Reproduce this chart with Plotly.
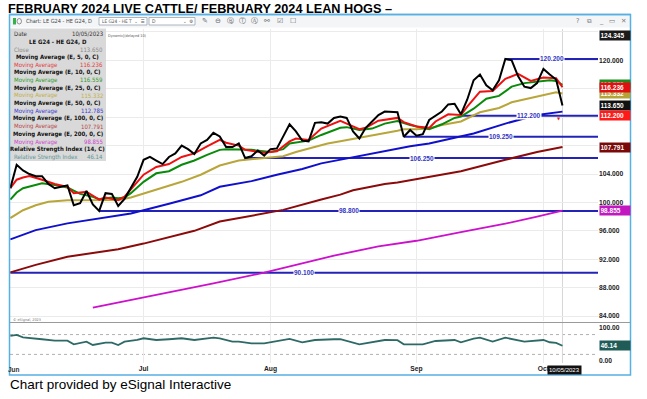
import pandas as pd
import plotly.graph_objects as go

# ---------------- data ----------------
HOLIDAYS = ["2023-06-19", "2023-07-04", "2023-09-04"]
trade_days = [d.strftime("%Y-%m-%d") for d in pd.bdate_range("2023-06-01", "2023-10-13")
              if d.strftime("%Y-%m-%d") not in HOLIDAYS]
N_DATA = 88
dates = trade_days[:N_DATA]

month_tick_idx = [21, 41, 64, 84]
month_tick_text = ["Jul", "Aug", "Sep", "Oct"]

close = [102.0, 105.3, 104.5, 104.0, 103.7, 103.7, 102.6, 102.0, 102.2, 102.4,
         99.6, 99.9, 101.6, 99.7, 98.8, 101.3, 101.2, 99.5, 100.5, 102.0,
         103.6, 106.0, 106.4, 105.9, 105.4, 106.4, 106.9, 108.0, 107.5, 106.8,
         108.3, 108.8, 109.8, 109.3, 107.8, 107.8, 108.3, 106.25, 106.5, 107.3,
         106.6, 107.5, 107.6, 109.3, 111.0, 110.0, 108.7, 108.6, 111.2, 111.3,
         111.1, 111.9, 112.1, 111.9, 110.0, 109.0, 110.5, 111.4, 112.3, 112.8,
         112.8, 112.7, 109.25, 110.2, 109.4, 109.6, 111.6, 112.2, 112.8, 113.8,
         113.9, 112.4, 114.5, 117.2, 118.0, 116.5, 115.8, 117.2, 120.2, 120.0,
         117.8, 116.3, 116.1, 116.8, 118.8, 118.0, 117.3, 113.65]

ema5_idx = [0, 1, 2, 3, 5, 7, 9, 10, 12, 14, 15, 17, 18, 19, 21, 23, 25, 27, 29, 31, 33, 34,
            36, 37, 39, 40, 42, 44, 45, 47, 49, 50, 52, 53, 55, 56, 58, 61, 62, 64, 66, 67,
            69, 71, 72, 74, 76, 78, 80, 82, 84, 86, 87]
ema5_val = [102.0, 103.2, 103.5, 103.7, 103.2, 102.6, 102.2, 101.3, 101.5, 100.4, 100.7, 100.3,
            100.8, 101.8, 103.9, 105.0, 105.4, 106.4, 106.9, 107.9, 108.8, 108.4, 108.0, 107.4,
            107.2, 107.0, 107.2, 108.6, 109.0, 108.8, 110.4, 110.8, 111.5, 111.1, 110.3, 110.5,
            111.5, 111.9, 111.3, 110.7, 110.5, 111.4, 112.4, 112.3, 113.5, 115.6, 115.7, 117.4,
            118.1, 117.1, 117.6, 117.5, 116.236]

ema10_idx = [0, 1, 2, 4, 5, 7, 9, 11, 13, 14, 16, 17, 18, 19, 21, 23, 25, 27, 29, 31, 33, 34,
             36, 38, 41, 43, 44, 46, 47, 49, 52, 53, 55, 57, 59, 61, 63, 66, 68, 70, 71, 73,
             75, 77, 79, 81, 83, 85, 86, 87]
ema10_val = [100.4, 101.4, 102.0, 102.45, 102.7, 102.45, 102.1, 101.2, 100.8, 100.45, 100.7,
             100.6, 100.7, 101.3, 102.9, 104.1, 104.4, 105.3, 105.9, 106.7, 107.4, 107.5, 107.5,
             107.4, 107.1, 107.5, 108.3, 108.5, 108.7, 109.5, 110.5, 110.6, 110.2, 110.4, 111.1,
             111.45, 110.9, 110.3, 111.0, 111.9, 112.1, 113.2, 114.6, 115.0, 116.3, 116.8, 117.0,
             117.2, 117.1, 116.559]

ema25_idx = [0, 2, 4, 6, 9, 12, 14, 17, 19, 22, 24, 25, 27, 30, 33, 36, 39, 43, 45, 48, 50, 52,
             54, 56, 58, 61, 62, 64, 66, 68, 71, 74, 77, 79, 82, 84, 86, 87]
ema25_val = [97.8, 98.9, 99.6, 100.1, 100.3, 100.35, 100.35, 100.35, 100.7, 101.5, 102.1, 102.4,
             102.9, 103.9, 105.2, 105.9, 106.2, 106.5, 107.1, 107.8, 108.3, 108.6, 108.9, 109.3,
             109.6, 110.1, 110.3, 110.3, 110.4, 110.9, 111.4, 112.7, 113.3, 114.1, 114.7, 115.1,
             115.5, 115.332]

ema50_idx = [0, 4, 9, 14, 19, 25, 30, 33, 38, 42, 46, 49, 52, 56, 61, 63, 66, 69, 71, 73, 78, 83, 87]
ema50_val = [94.8, 96.1, 97.05, 97.75, 98.45, 99.8, 101.0, 102.2, 103.0, 103.9, 104.7, 105.5,
             106.0, 106.7, 107.6, 107.9, 108.3, 108.9, 109.3, 109.7, 111.1, 112.3, 112.785]

ema100_idx = [0, 4, 9, 14, 17, 21, 25, 29, 33, 38, 43, 49, 52, 54, 59, 61, 65, 69, 71, 78, 83, 87]
ema100_val = [90.15, 91.2, 92.35, 93.05, 93.4, 94.2, 95.1, 96.0, 97.3, 98.15, 98.95, 100.4, 101.1,
              101.7, 102.6, 102.8, 103.4, 104.1, 104.4, 106.0, 107.1, 107.791]

ema200_idx = [13, 20, 25, 32, 40, 46, 51, 58, 64, 71, 78, 83, 87]
ema200_val = [85.2, 86.45, 87.3, 88.6, 90.1, 91.4, 92.5, 93.8, 94.6, 95.8, 97.0, 98.0, 98.855]

rsi_idx = [0, 1, 2, 4, 5, 7, 9, 10, 11, 12, 13, 15, 16, 17, 18, 20, 21, 23, 25, 27, 29, 31, 32,
           33, 35, 36, 38, 40, 44, 46, 48, 51, 52, 55, 57, 59, 61, 62, 65, 67, 70, 71, 73, 74,
           76, 78, 81, 84, 85, 86, 87]
rsi_val = [75.8, 78.8, 71.7, 68.8, 65.8, 61.6, 61.6, 50.6, 53.6, 58.5, 48.5, 55.5, 55.5, 48.5,
           58.5, 63.6, 68.8, 63.6, 65.8, 68.8, 63.6, 68.8, 70.6, 68.8, 58.5, 58.5, 53.6, 53.6,
           66.7, 56.7, 63.6, 65.8, 66.5, 50.6, 58.0, 63.6, 63.0, 50.6, 50.6, 60.6, 63.6, 56.7,
           68.0, 70.6, 58.5, 70.6, 58.5, 63.6, 56.7, 55.0, 46.14]

support_levels = [120.2, 112.2, 109.25, 106.25, 98.8, 90.1]
support_start_idx = [78, 71, 62, 37, 14, 0]
support_labels = ["120.200", "112.200", "109.250", "106.250", "98.800", "90.100"]

last_close = 113.650
last_ema = [116.236, 116.559, 115.332, 112.785, 107.791, 98.855]
last_rsi = 46.14
chart_high = 124.345

price_ticks = [84, 88, 92, 96, 100, 104, 108, 112, 116, 120, 124]
price_tick_shown = [84, 88, 92, 96, 100, 104, 120]

# ---------------- styles ----------------
FONT = "Liberation Sans"
NARROW = "Liberation Sans Narrow, DejaVu Sans Condensed, Liberation Sans"
C_CLOSE = "#000000"
C_E5 = "#ee1111"
C_E10 = "#0a8a0a"
C_E25 = "#b8a63a"
C_E50 = "#1010cc"
C_E100 = "#8b0a0a"
C_E200 = "#cc10cc"
C_SUP = "#2323b8"
C_RSI = "#2d6a66"

W, H = 647, 399
ML, MR, MT, MB = 10, 49, 29, 36
PW = W - ML - MR
PH = H - MT - MB
X_END = 92.6


def fx(p):
    return (p - ML) / PW


def fy(p):
    return (H - MB - p) / PH


fig = go.Figure()


def add_line(idx, vals, color, width, yaxis="y"):
    fig.add_trace(go.Scatter(x=[trade_days[i] for i in idx], y=vals, mode="lines",
                             line=dict(color=color, width=width), yaxis=yaxis,
                             hoverinfo="skip", showlegend=False))


# support lines
for lvl, st in zip(support_levels, support_start_idx):
    add_line([st, len(trade_days) - 1], [lvl, lvl], C_SUP, 2)

add_line(ema200_idx, ema200_val, C_E200, 1.8)
add_line(ema100_idx, ema100_val, C_E100, 2)
add_line(ema50_idx, ema50_val, C_E50, 2)
add_line(ema25_idx, ema25_val, C_E25, 2)
add_line(ema10_idx, ema10_val, C_E10, 2)
add_line(ema5_idx, ema5_val, C_E5, 2)
add_line(list(range(N_DATA)), close, C_CLOSE, 2)
add_line(rsi_idx, rsi_val, C_RSI, 1.8, yaxis="y2")

tickfont = dict(family=FONT, size=6.7, color="#222", weight="bold")

fig.update_layout(
    width=W, height=H,
    margin=dict(l=ML, r=MR, t=MT, b=MB),
    paper_bgcolor="white", plot_bgcolor="rgba(0,0,0,0)",
    showlegend=False,
    xaxis=dict(type="category", categoryorder="array", categoryarray=trade_days,
               range=[-0.05, X_END], tickvals=[trade_days[i] for i in month_tick_idx],
               ticktext=month_tick_text, showgrid=True, gridcolor="#ebebeb", gridwidth=1,
               zeroline=False, showline=False, ticks="", tickfont=tickfont,
               anchor="y2", domain=[0, 1], fixedrange=True),
    yaxis=dict(domain=[fy(321), 1], range=[83.3, 124.42], side="right", anchor="x",
               tickvals=price_ticks,
               ticktext=[("%.3f" % t) if t in price_tick_shown else "" for t in price_ticks],
               showgrid=True, gridcolor="#ebebeb", zeroline=False, showline=False,
               ticks="", tickfont=tickfont, fixedrange=True),
    yaxis2=dict(domain=[0, fy(323)], range=[-6, 115], side="right", anchor="x",
                tickvals=[0, 100], ticktext=["0.00", "100.00"], showgrid=False,
                zeroline=False, showline=False, ticks="", tickfont=tickfont, fixedrange=True),
)

shapes = []
annos = []


def txt(x, y, s, size=6.5, color="#222", bold=False, anchor="left", family=FONT, bg=None):
    annos.append(dict(xref="paper", yref="paper", x=fx(x), y=fy(y), text=s, showarrow=False,
                      xanchor=anchor, yanchor="middle",
                      font=dict(family=family, size=size, color=color,
                                weight="bold" if bold else "normal"),
                      bgcolor=bg, borderpad=0))


def rect(x0, y0, x1, y1, fill=None, line=None, lw=1, layer="above"):
    shapes.append(dict(type="rect", xref="paper", yref="paper", x0=fx(x0), x1=fx(x1),
                       y0=fy(y1), y1=fy(y0), fillcolor=fill,
                       line=dict(color=line or "rgba(0,0,0,0)", width=lw if line else 0),
                       layer=layer))


def hline(x0, x1, y, color, w=1, dash="solid"):
    shapes.append(dict(type="line", xref="paper", yref="paper", x0=fx(x0), x1=fx(x1),
                       y0=fy(y), y1=fy(y), line=dict(color=color, width=w, dash=dash)))


# RSI bands
for lvl in (80, 20):
    shapes.append(dict(type="line", xref="paper", yref="y2", x0=0, x1=1, y0=lvl, y1=lvl,
                       line=dict(color="#b0b0b0", width=1, dash="dot"), layer="below"))
# current date line
shapes.append(dict(type="line", xref="x", yref="paper", x0=N_DATA - 1, x1=N_DATA - 1,
                   y0=0, y1=1, line=dict(color="#d6d6d6", width=1), layer="below"))
# panel separator
hline(10, 630, 322.5, "#9a9a9a", 1)

# toolbar
rect(10, 14.5, 630, 27.5, fill="#f3f5f7")
hline(9.5, 630.5, 14.5, "#56b0e4", 1.5)
rect(13, 18, 16, 24.5, fill="#36b04a")
shapes.append(dict(type="circle", xref="paper", yref="paper", x0=fx(17), x1=fx(21.5),
                   y0=fy(24), y1=fy(18.5), line=dict(color="#777", width=0.8)))
txt(25, 21, "Chart: LE G24 - HE G24, D", size=5.6, color="#444", family=NARROW)
rect(99, 17.5, 147, 25, fill="white", line="#9aa4ae", lw=0.8)
txt(101, 21.3, "LE G24 - HE T  \u2304  \u2630", size=4.8, color="#555", family=NARROW)
rect(149, 17.5, 195, 25, fill="white", line="#9aa4ae", lw=0.8)
txt(151, 21.3, "D", size=5, color="#555", family=NARROW)
txt(182, 21.3, "\u2304  \u2699", size=4.8, color="#555", family=NARROW)
for xi, g in zip([205, 218, 230, 242, 254, 267, 280, 293],
                 ["\u270E", "\u2296", "\u24B7", "\u24C9", "\u24B6", "\u26AF", "\u2611", "\u2610"]):
    txt(xi, 21, g, size=7, color="#6a6a6a", anchor="center", family="DejaVu Sans")
for xi, g in zip([577, 589, 601, 612, 623], ["?", "\u29C9", "_", "\u25AD", "\u2715"]):
    txt(xi, 21, g, size=6.5, color="#7a7a7a", anchor="center", family="DejaVu Sans")

# data window box
rect(10, 28.5, 106, 161, fill="rgba(214,214,214,0.92)")
legend_rows = [
    ("Date", "10/05/2023", "#333", False),
    ("LE G24 - HE G24, D", None, "#111", True),
    ("Close", "%.3f" % last_close, "#8a8a8a", False),
    ("Moving Average (E, 5, 0, C)", None, "#111", True),
    ("Moving Average", "%.3f" % last_ema[0], "#e23a3a", False),
    ("Moving Average (E, 10, 0, C)", None, "#111", True),
    ("Moving Average", "%.3f" % last_ema[1], "#2a9a2a", False),
    ("Moving Average (E, 25, 0, C)", None, "#111", True),
    ("Moving Average", "%.3f" % last_ema[2], "#bfae48", False),
    ("Moving Average (E, 50, 0, C)", None, "#111", True),
    ("Moving Average", "%.3f" % last_ema[3], "#3838d0", False),
    ("Moving Average (E, 100, 0, C)", None, "#111", True),
    ("Moving Average", "%.3f" % last_ema[4], "#b84444", False),
    ("Moving Average (E, 200, 0, C)", None, "#111", True),
    ("Moving Average", "%.3f" % last_ema[5], "#cc44cc", False),
    ("Relative Strength Index (14, C)", None, "#111", True),
    ("Relative Strength Index", "%.2f" % last_rsi, "#5a9494", False),
]
for k, (lab, val, col, hdr) in enumerate(legend_rows):
    yy = 33.7 + 7.7 * k
    if hdr:
        txt(58, yy, lab, size=6, color=col, bold=True, anchor="center", family=NARROW)
    else:
        txt(13, yy, lab, size=6, color=col, family=NARROW)
        txt(104, yy, val, size=6, color=col, anchor="right", family=NARROW)

txt(107, 35.5, "Dynamic|(delayed 10)", size=3.8, color="#555", family=NARROW)
txt(12, 319, "\u00a9 eSignal, 2023", size=3.8, color="#777", family=NARROW)

# support line labels
for lvl, st, lab in zip(support_levels, support_start_idx, support_labels):
    annos.append(dict(xref="x", yref="y", x=(st + X_END) / 2, y=lvl, text=lab,
                      showarrow=False, xanchor="center", yanchor="middle",
                      font=dict(family=FONT, size=6.5, color="#3434c4", weight="bold"),
                      bgcolor="white", borderpad=0))

# alert marker
annos.append(dict(xref="x", yref="y", x=86.5, y=111.75, text="\u25BC", showarrow=False,
                  font=dict(family="DejaVu Sans", size=4, color="#ee1111")))


# value boxes on the right axis
def vbox(val, text, bg, yref="y", yanchor="middle", fc="white"):
    annos.append(dict(xref="paper", yref=yref, x=1, xshift=1, y=val, text=text,
                      showarrow=False, xanchor="left", yanchor=yanchor, align="left",
                      width=29, height=8, bgcolor=bg, borderpad=0.5,
                      font=dict(family=FONT, size=6.5, color=fc, weight="bold")))


vbox(chart_high, "%.3f" % chart_high, "#1b1b1b", yanchor="top")
vbox(last_ema[1], "%.3f" % last_ema[1], "#1f8a1f")
vbox(last_ema[2], "%.3f" % last_ema[2], "#b3a33a")
vbox(last_ema[0], "%.3f" % last_ema[0], "#e01010")
vbox(last_close, "%.3f" % last_close, "#111111")
vbox(112.2, "112.200", "#ff1a1a")
vbox(last_ema[4], "%.3f" % last_ema[4], "#7a0a0a")
vbox(last_ema[5], "%.3f" % last_ema[5], "#c218c2")
vbox(last_rsi, "%.2f" % last_rsi, "#1f5c58", yref="y2")

# date labels
txt(14, 369.5, "Jun", size=6.5, color="#333", bold=True, anchor="center")
annos.append(dict(xref="x", yref="paper", x=N_DATA - 1 + 0.3, y=fy(369.5), text="10/05/2023",
                  showarrow=False, xanchor="center", yanchor="middle", bgcolor="#111",
                  borderpad=1, font=dict(family=FONT, size=6, color="white")))

# window border
rect(9.5, 14.5, 630.5, 375, line="#56b0e4", lw=1.5)

# title and footer
txt(7, 9.5, "FEBRUARY 2024 LIVE CATTLE/ FEBRUARY 2024 LEAN HOGS \u2013", size=12.7,
    color="#000", bold=True)
txt(9, 384, "Chart provided by eSignal Interactive", size=13.5, color="#000")

fig.update_layout(shapes=shapes, annotations=annos)
fig.write_html("out.html", config={"displayModeBar": False},
               post_script="document.body.style.margin='0px';document.body.style.overflow='hidden';")
